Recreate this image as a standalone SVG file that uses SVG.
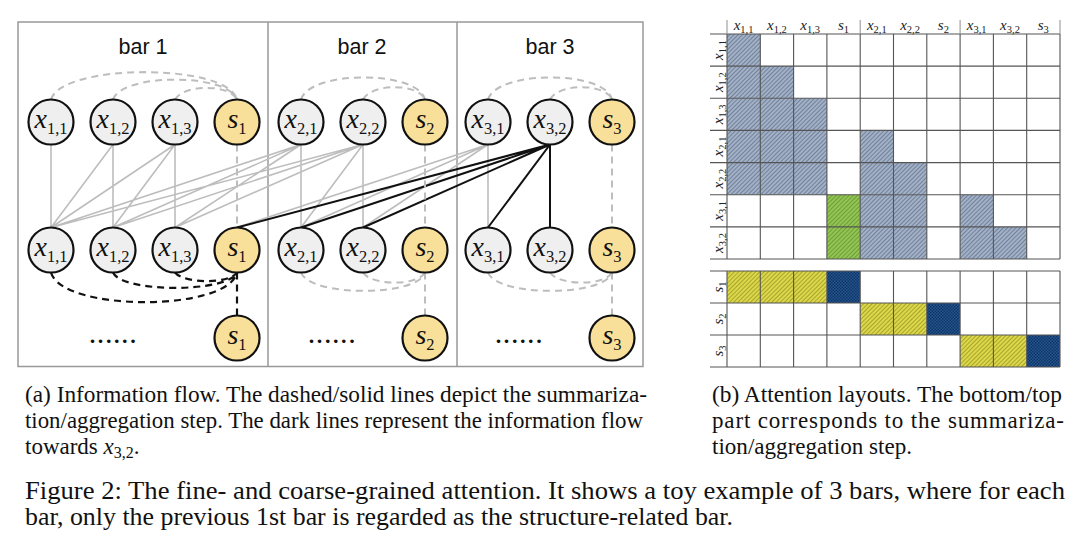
<svg xmlns="http://www.w3.org/2000/svg" width="1080" height="550" viewBox="0 0 1080 550">
<style>
.frame{fill:none;stroke:#999;stroke-width:1.5}
.title{font-family:"Liberation Sans",Arial,sans-serif;font-size:21.5px;fill:#111;text-anchor:middle}
.nx{fill:#efefef;stroke:#111;stroke-width:2.2}
.ns{fill:#f9e09a;stroke:#111;stroke-width:2.2}
.lbl{font-family:"Liberation Serif","Times New Roman",serif;fill:#111;text-anchor:middle}
.v{font-style:italic;font-size:28px}
.sb{font-size:16.5px}
.dots{font-family:"Liberation Serif","Times New Roman",serif;font-size:22px;font-weight:bold;fill:#111;text-anchor:middle;letter-spacing:2.6px}
.g{stroke:#bdbdbd;stroke-width:1.6;fill:none}
.k{stroke:#111;stroke-width:2;fill:none}
.gd{stroke:#bdbdbd;stroke-width:2;fill:none;stroke-dasharray:7 5}
.kd{stroke:#111;stroke-width:2.2;fill:none;stroke-dasharray:7 5}
.grid{stroke:#555;stroke-width:1.1;fill:none}
.hsep{stroke:#999;stroke-width:1.1}
.ml{font-family:"Liberation Serif","Times New Roman",serif;fill:#222;text-anchor:middle}
.mv{font-style:italic;font-size:15px}
.ms{font-size:10.5px}
.cap{font-family:"Liberation Serif","Times New Roman",serif;font-size:23px;fill:#111}
.fig{font-family:"Liberation Serif","Times New Roman",serif;font-size:24.5px;fill:#111}
</style>
<defs>
<pattern id="pBlue" width="3" height="3" patternUnits="userSpaceOnUse" patternTransform="rotate(45)"><rect width="3" height="3" fill="#a3b1c6"/><line x1="0.5" y1="0" x2="0.5" y2="3" stroke="#71819b" stroke-width="1"/></pattern>
<pattern id="pGreen" width="3" height="3" patternUnits="userSpaceOnUse" patternTransform="rotate(45)"><rect width="3" height="3" fill="#93c456"/><line x1="0.5" y1="0" x2="0.5" y2="3" stroke="#6f9f35" stroke-width="1"/></pattern>
<pattern id="pYellow" width="3" height="3" patternUnits="userSpaceOnUse" patternTransform="rotate(45)"><rect width="3" height="3" fill="#dcd84c"/><line x1="0.5" y1="0" x2="0.5" y2="3" stroke="#a9a42a" stroke-width="1"/></pattern>
<pattern id="pDark" width="3" height="3" patternUnits="userSpaceOnUse"><rect width="3" height="3" fill="#24558f"/><rect width="1.5" height="1.5" fill="#0f3466"/><rect x="1.5" y="1.5" width="1.5" height="1.5" fill="#0f3466"/></pattern>
</defs>
<rect width="1080" height="550" fill="#fff"/>

<!-- panel (a) frame -->
<g id="frame-a">
<rect class="frame" x="18" y="22" width="625" height="344.5"/>
<line class="frame" x1="268" y1="22" x2="268" y2="366.5"/>
<line class="frame" x1="457" y1="22" x2="457" y2="366.5"/>
<text class="title" x="143" y="54">bar 1</text>
<text class="title" x="362" y="54">bar 2</text>
<text class="title" x="550" y="54">bar 3</text>
</g>

<g id="connectors">
<!-- gray solid aggregation lines (top node bottom -> middle node top) -->
<path class="g" d="M51,144.5 L51,227.5
M113,144.5 L51,227.5 M113,144.5 L113,227.5
M175,144.5 L51,227.5 M175,144.5 L113,227.5 M175,144.5 L175,227.5
M301,144.5 L51,227.5 M301,144.5 L113,227.5 M301,144.5 L175,227.5 M301,144.5 L301,227.5
M363,144.5 L51,227.5 M363,144.5 L113,227.5 M363,144.5 L175,227.5 M363,144.5 L301,227.5 M363,144.5 L363,227.5
M488,144.5 L237,227.5 M488,144.5 L301,227.5 M488,144.5 L363,227.5 M488,144.5 L488,227.5"/>
<!-- dark lines towards x3,2 -->
<path class="k" d="M550,144.5 L237,227.5 M550,144.5 L301,227.5 M550,144.5 L363,227.5 M550,144.5 L488,227.5 M550,144.5 L550,227.5"/>
<!-- top dashed summarization arcs -->
<path class="gd" d="M51,99.5 C62,63 228,63 237,99.5 M113,99.5 C122,73 228,73 237,99.5 M175,99.5 C184,84 230,84 237,99.5
M301,99.5 C310,70 418,70 425,99.5 M363,99.5 C372,83 418,83 425,99.5
M488,99.5 C497,70 605,70 612,99.5 M550,99.5 C559,83 605,83 612,99.5"/>
<path class="gd" d="M237,144.5 L237,227.5 M425,144.5 L425,227.5 M612,144.5 L612,227.5"/>
<!-- middle dashed arcs -->
<path class="kd" d="M51,272.5 C62,312 228,312 237,272.5 M113,272.5 C122,293 228,293 237,272.5 M175,272.5 C184,284 230,284 237,272.5 M237,272.5 L237,315.5"/>
<path class="gd" d="M301,272.5 C310,297 418,297 425,272.5 M363,272.5 C372,286 418,286 425,272.5
M488,272.5 C497,297 605,297 612,272.5 M550,272.5 C559,286 605,286 612,272.5
M425,272.5 L425,315.5 M612,272.5 L612,315.5"/>
</g>

<!-- top row -->
<g id="t-x11"><circle class="nx" cx="51" cy="122" r="22.5"/><text class="lbl" x="51" y="128"><tspan class="v">x</tspan><tspan class="sb" dy="6">1,1</tspan></text></g>
<g id="t-x12"><circle class="nx" cx="113" cy="122" r="22.5"/><text class="lbl" x="113" y="128"><tspan class="v">x</tspan><tspan class="sb" dy="6">1,2</tspan></text></g>
<g id="t-x13"><circle class="nx" cx="175" cy="122" r="22.5"/><text class="lbl" x="175" y="128"><tspan class="v">x</tspan><tspan class="sb" dy="6">1,3</tspan></text></g>
<g id="t-s1"><circle class="ns" cx="237" cy="122" r="22.5"/><text class="lbl" x="237" y="128"><tspan class="v">s</tspan><tspan class="sb" dy="6">1</tspan></text></g>
<g id="t-x21"><circle class="nx" cx="301" cy="122" r="22.5"/><text class="lbl" x="301" y="128"><tspan class="v">x</tspan><tspan class="sb" dy="6">2,1</tspan></text></g>
<g id="t-x22"><circle class="nx" cx="363" cy="122" r="22.5"/><text class="lbl" x="363" y="128"><tspan class="v">x</tspan><tspan class="sb" dy="6">2,2</tspan></text></g>
<g id="t-s2"><circle class="ns" cx="425" cy="122" r="22.5"/><text class="lbl" x="425" y="128"><tspan class="v">s</tspan><tspan class="sb" dy="6">2</tspan></text></g>
<g id="t-x31"><circle class="nx" cx="488" cy="122" r="22.5"/><text class="lbl" x="488" y="128"><tspan class="v">x</tspan><tspan class="sb" dy="6">3,1</tspan></text></g>
<g id="t-x32"><circle class="nx" cx="550" cy="122" r="22.5"/><text class="lbl" x="550" y="128"><tspan class="v">x</tspan><tspan class="sb" dy="6">3,2</tspan></text></g>
<g id="t-s3"><circle class="ns" cx="612" cy="122" r="22.5"/><text class="lbl" x="612" y="128"><tspan class="v">s</tspan><tspan class="sb" dy="6">3</tspan></text></g>

<!-- middle row -->
<g id="m-x11"><circle class="nx" cx="51" cy="250" r="22.5"/><text class="lbl" x="51" y="256"><tspan class="v">x</tspan><tspan class="sb" dy="6">1,1</tspan></text></g>
<g id="m-x12"><circle class="nx" cx="113" cy="250" r="22.5"/><text class="lbl" x="113" y="256"><tspan class="v">x</tspan><tspan class="sb" dy="6">1,2</tspan></text></g>
<g id="m-x13"><circle class="nx" cx="175" cy="250" r="22.5"/><text class="lbl" x="175" y="256"><tspan class="v">x</tspan><tspan class="sb" dy="6">1,3</tspan></text></g>
<g id="m-s1"><circle class="ns" cx="237" cy="250" r="22.5"/><text class="lbl" x="237" y="256"><tspan class="v">s</tspan><tspan class="sb" dy="6">1</tspan></text></g>
<g id="m-x21"><circle class="nx" cx="301" cy="250" r="22.5"/><text class="lbl" x="301" y="256"><tspan class="v">x</tspan><tspan class="sb" dy="6">2,1</tspan></text></g>
<g id="m-x22"><circle class="nx" cx="363" cy="250" r="22.5"/><text class="lbl" x="363" y="256"><tspan class="v">x</tspan><tspan class="sb" dy="6">2,2</tspan></text></g>
<g id="m-s2"><circle class="ns" cx="425" cy="250" r="22.5"/><text class="lbl" x="425" y="256"><tspan class="v">s</tspan><tspan class="sb" dy="6">2</tspan></text></g>
<g id="m-x31"><circle class="nx" cx="488" cy="250" r="22.5"/><text class="lbl" x="488" y="256"><tspan class="v">x</tspan><tspan class="sb" dy="6">3,1</tspan></text></g>
<g id="m-x32"><circle class="nx" cx="550" cy="250" r="22.5"/><text class="lbl" x="550" y="256"><tspan class="v">x</tspan><tspan class="sb" dy="6">3,2</tspan></text></g>
<g id="m-s3"><circle class="ns" cx="612" cy="250" r="22.5"/><text class="lbl" x="612" y="256"><tspan class="v">s</tspan><tspan class="sb" dy="6">3</tspan></text></g>

<!-- bottom row -->
<g id="b-dots1"><text class="dots" x="114" y="343">......</text></g>
<g id="b-s1"><circle class="ns" cx="237" cy="338" r="22.5"/><text class="lbl" x="237" y="344"><tspan class="v">s</tspan><tspan class="sb" dy="6">1</tspan></text></g>
<g id="b-dots2"><text class="dots" x="333" y="343">......</text></g>
<g id="b-s2"><circle class="ns" cx="425" cy="338" r="22.5"/><text class="lbl" x="425" y="344"><tspan class="v">s</tspan><tspan class="sb" dy="6">2</tspan></text></g>
<g id="b-dots3"><text class="dots" x="520" y="343">......</text></g>
<g id="b-s3"><circle class="ns" cx="612" cy="338" r="22.5"/><text class="lbl" x="612" y="344"><tspan class="v">s</tspan><tspan class="sb" dy="6">3</tspan></text></g>

<!-- panel (b): attention layout matrix -->
<g id="matrix">
<g id="cells">
<rect x="727" y="34" width="33.3" height="32.1" fill="url(#pBlue)"/>
<rect x="727" y="66.1" width="66.6" height="32.2" fill="url(#pBlue)"/>
<rect x="727" y="98.3" width="99.9" height="32.1" fill="url(#pBlue)"/>
<rect x="727" y="130.4" width="99.9" height="64.3" fill="url(#pBlue)"/>
<rect x="860.2" y="130.4" width="33.3" height="32.2" fill="url(#pBlue)"/>
<rect x="860.2" y="162.6" width="66.6" height="32.1" fill="url(#pBlue)"/>
<rect x="826.9" y="194.7" width="33.3" height="64.3" fill="url(#pGreen)"/>
<rect x="860.2" y="194.7" width="66.6" height="64.3" fill="url(#pBlue)"/>
<rect x="960.1" y="194.7" width="33.3" height="64.3" fill="url(#pBlue)"/>
<rect x="993.4" y="226.9" width="33.3" height="32.1" fill="url(#pBlue)"/>
<rect x="727" y="271" width="99.9" height="32" fill="url(#pYellow)"/>
<rect x="826.9" y="271" width="33.3" height="32" fill="url(#pDark)"/>
<rect x="860.2" y="303" width="66.6" height="32" fill="url(#pYellow)"/>
<rect x="926.8" y="303" width="33.3" height="32" fill="url(#pDark)"/>
<rect x="960.1" y="335" width="66.6" height="32" fill="url(#pYellow)"/>
<rect x="1026.7" y="335" width="33.3" height="32" fill="url(#pDark)"/>
</g>
<path class="grid" d="M710,34H1060 M710,66.1H1060 M710,98.3H1060 M710,130.4H1060 M710,162.6H1060 M710,194.7H1060 M710,226.9H1060 M710,259H1060
M710,271H1060 M710,303H1060 M710,335H1060 M710,367H1060
M727,34V259 M760.3,34V259 M793.6,34V259 M826.9,34V259 M860.2,34V259 M893.5,34V259 M926.8,34V259 M960.1,34V259 M993.4,34V259 M1026.7,34V259 M1060,34V259
M727,271V367 M760.3,271V367 M793.6,271V367 M826.9,271V367 M860.2,271V367 M893.5,271V367 M926.8,271V367 M960.1,271V367 M993.4,271V367 M1026.7,271V367 M1060,271V367"/>
<path class="hsep" d="M727,20V34 M860.2,20V34 M960.1,20V34 M1060,20V34"/>
<g id="col-labels">
<text class="ml" x="743.6" y="30"><tspan class="mv">x</tspan><tspan class="ms" dy="3">1,1</tspan></text>
<text class="ml" x="776.9" y="30"><tspan class="mv">x</tspan><tspan class="ms" dy="3">1,2</tspan></text>
<text class="ml" x="810.2" y="30"><tspan class="mv">x</tspan><tspan class="ms" dy="3">1,3</tspan></text>
<text class="ml" x="843.5" y="30"><tspan class="mv">s</tspan><tspan class="ms" dy="3">1</tspan></text>
<text class="ml" x="876.8" y="30"><tspan class="mv">x</tspan><tspan class="ms" dy="3">2,1</tspan></text>
<text class="ml" x="910.1" y="30"><tspan class="mv">x</tspan><tspan class="ms" dy="3">2,2</tspan></text>
<text class="ml" x="943.4" y="30"><tspan class="mv">s</tspan><tspan class="ms" dy="3">2</tspan></text>
<text class="ml" x="976.7" y="30"><tspan class="mv">x</tspan><tspan class="ms" dy="3">3,1</tspan></text>
<text class="ml" x="1010" y="30"><tspan class="mv">x</tspan><tspan class="ms" dy="3">3,2</tspan></text>
<text class="ml" x="1043.3" y="30"><tspan class="mv">s</tspan><tspan class="ms" dy="3">3</tspan></text>
</g>
<g id="row-labels">
<text class="ml" transform="translate(723,50) rotate(-90)"><tspan class="mv">x</tspan><tspan class="ms" dy="3">1,1</tspan></text>
<text class="ml" transform="translate(723,82.2) rotate(-90)"><tspan class="mv">x</tspan><tspan class="ms" dy="3">1,2</tspan></text>
<text class="ml" transform="translate(723,114.3) rotate(-90)"><tspan class="mv">x</tspan><tspan class="ms" dy="3">1,3</tspan></text>
<text class="ml" transform="translate(723,146.5) rotate(-90)"><tspan class="mv">x</tspan><tspan class="ms" dy="3">2,1</tspan></text>
<text class="ml" transform="translate(723,178.6) rotate(-90)"><tspan class="mv">x</tspan><tspan class="ms" dy="3">2,2</tspan></text>
<text class="ml" transform="translate(723,210.8) rotate(-90)"><tspan class="mv">x</tspan><tspan class="ms" dy="3">3,1</tspan></text>
<text class="ml" transform="translate(723,243) rotate(-90)"><tspan class="mv">x</tspan><tspan class="ms" dy="3">3,2</tspan></text>
<text class="ml" transform="translate(723,287) rotate(-90)"><tspan class="mv">s</tspan><tspan class="ms" dy="3">1</tspan></text>
<text class="ml" transform="translate(723,319) rotate(-90)"><tspan class="mv">s</tspan><tspan class="ms" dy="3">2</tspan></text>
<text class="ml" transform="translate(723,351) rotate(-90)"><tspan class="mv">s</tspan><tspan class="ms" dy="3">3</tspan></text>
</g>
</g>

<!-- captions -->
<g id="captions">
<text class="cap" x="25" y="402" textLength="622" lengthAdjust="spacingAndGlyphs">(a) Information flow. The dashed/solid lines depict the summariza-</text>
<text class="cap" x="25" y="428" textLength="618" lengthAdjust="spacingAndGlyphs">tion/aggregation step. The dark lines represent the information flow</text>
<text class="cap" x="25" y="454">towards <tspan font-style="italic">x</tspan><tspan font-size="16" dy="4">3,2</tspan><tspan dy="-4">.</tspan></text>
<text class="cap" x="712" y="402" textLength="350" lengthAdjust="spacingAndGlyphs">(b) Attention layouts. The bottom/top</text>
<text class="cap" x="712" y="428" textLength="352" lengthAdjust="spacing">part corresponds to the summariza-</text>
<text class="cap" x="712" y="454" textLength="200" lengthAdjust="spacingAndGlyphs">tion/aggregation step.</text>
<text class="fig" x="25" y="499" textLength="1040" lengthAdjust="spacingAndGlyphs">Figure 2: The fine- and coarse-grained attention. It shows a toy example of 3 bars, where for each</text>
<text class="fig" x="25" y="525" textLength="708" lengthAdjust="spacingAndGlyphs">bar, only the previous 1st bar is regarded as the structure-related bar.</text>
</g>
</svg>
